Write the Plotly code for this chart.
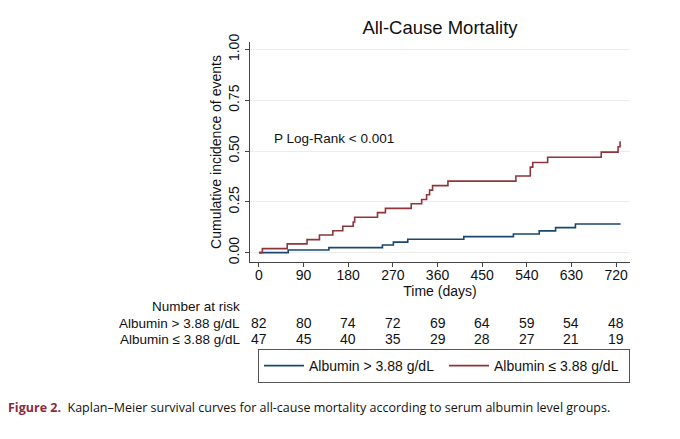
import plotly.graph_objects as go

# Kaplan-Meier cumulative incidence
hi_days = [0, 59, 141, 249, 271, 300, 413, 513, 565, 598, 638, 729]
hi_inc = [0.0, 0.013, 0.025, 0.038, 0.052, 0.066, 0.079, 0.092, 0.107, 0.123, 0.141, 0.141]

lo_days = [0, 7, 57, 97, 122, 149, 169, 190, 193, 239, 255, 307, 328, 338, 344, 350,
           381, 518, 547, 552, 582, 690, 724, 728]
lo_inc = [0.0, 0.020, 0.043, 0.064, 0.087, 0.108, 0.130, 0.151, 0.174, 0.197, 0.218,
          0.241, 0.262, 0.285, 0.308, 0.330, 0.352, 0.377, 0.421, 0.444, 0.470, 0.495,
          0.521, 0.549]

risk_times = [0, 90, 180, 270, 360, 450, 540, 630, 720]
risk_hi = [82, 80, 74, 72, 69, 64, 59, 54, 48]
risk_lo = [47, 45, 40, 35, 29, 28, 27, 21, 19]

label_hi = "Albumin > 3.88 g/dL"
label_lo = "Albumin ≤ 3.88 g/dL"

navy = "#1a476f"
maroon = "#90353b"
font = "Liberation Sans, Arial, sans-serif"

# the page body has an 8px margin, so the figure is drawn 8px in from the window
OFF = 8
W, H = 680 - OFF, 439 - OFF
# plot area in window pixels: x 250..630, y 42..262
PL, PR, PT, PB = 250 - OFF, 630 - OFF, 42 - OFF, 262 - OFF


def px(x):
    return (x - OFF - PL) / (PR - PL)


def py(y):
    return (PB - (y - OFF)) / (PB - PT)


fig = go.Figure()
fig.add_trace(go.Scatter(x=hi_days, y=hi_inc, mode="lines", name=label_hi,
                         line=dict(color=navy, width=1.6, shape="hv")))
fig.add_trace(go.Scatter(x=lo_days, y=lo_inc, mode="lines", name=label_lo,
                         line=dict(color=maroon, width=1.6, shape="hv")))

fig.update_xaxes(range=[-18, 748], tickvals=risk_times, ticks="outside", ticklen=4,
                 tickcolor="#444", showline=True, linecolor="#444", linewidth=1,
                 showgrid=False, zeroline=False, ticklabelstandoff=-4,
                 title=dict(text="Time (days)", standoff=0, font=dict(size=14)),
                 tickfont=dict(size=14))
fig.update_yaxes(range=[-0.046, 1.037], tickvals=[0, 0.25, 0.5, 0.75, 1.0],
                 ticktext=["0.00", "0.25", "0.50", "0.75", "1.00"], tickangle=-90,
                 ticks="outside", ticklen=4, tickcolor="#444", showline=True,
                 linecolor="#444", linewidth=1, showgrid=True, gridcolor="#ececec",
                 zeroline=False, tickfont=dict(size=14),
                 title=dict(text="Cumulative incidence of events", standoff=1,
                            font=dict(size=14)))

fig.add_annotation(x=26, y=0.564, xanchor="left", yanchor="middle", showarrow=False,
                   text="P Log-Rank < 0.001", font=dict(size=13.5))

# number at risk table
fig.add_annotation(x=px(242), y=py(306), xref="paper", yref="paper", xanchor="right",
                   yanchor="middle", showarrow=False, text="Number at risk",
                   font=dict(size=13.5))
for row_px, label, counts in [(323, label_hi, risk_hi), (339, label_lo, risk_lo)]:
    fig.add_annotation(x=px(242), y=py(row_px), xref="paper", yref="paper",
                       xanchor="right", yanchor="middle", showarrow=False, text=label,
                       font=dict(size=13.5))
    for t, n in zip(risk_times, counts):
        fig.add_annotation(x=t, y=py(row_px), xref="x", yref="paper", xanchor="center",
                           yanchor="middle", showarrow=False, text=str(n),
                           font=dict(size=14))

# caption
fig.add_annotation(x=px(6), y=py(407), xref="paper", yref="paper", showarrow=False,
                   xanchor="left", yanchor="middle",
                   text="<span style='color:#8c2b3a'><b>Figure 2.</b></span>  "
                        "Kaplan–Meier survival curves for all-cause mortality according "
                        "to serum albumin level groups.",
                   font=dict(family="Open Sans, sans-serif", size=12.5, color="#111"))

fig.update_layout(
    width=W, height=H,
    margin=dict(l=PL, r=W - PR, t=PT, b=H - PB, autoexpand=False),
    paper_bgcolor="white", plot_bgcolor="white",
    font=dict(family=font, color="#111", size=14),
    title=dict(text="All-Cause Mortality", x=(440 - OFF) / W, xanchor="center",
               y=1 - (28 - OFF) / H, yanchor="middle", font=dict(size=18.5)),
    legend=dict(orientation="h", x=px(258), y=py(349), xanchor="left", yanchor="top",
                bordercolor="#555", borderwidth=1, bgcolor="white",
                font=dict(size=14), entrywidth=130, entrywidthmode="pixels",
                itemwidth=40, tracegroupgap=0),
    showlegend=True,
)

fig.write_html("out.html")
